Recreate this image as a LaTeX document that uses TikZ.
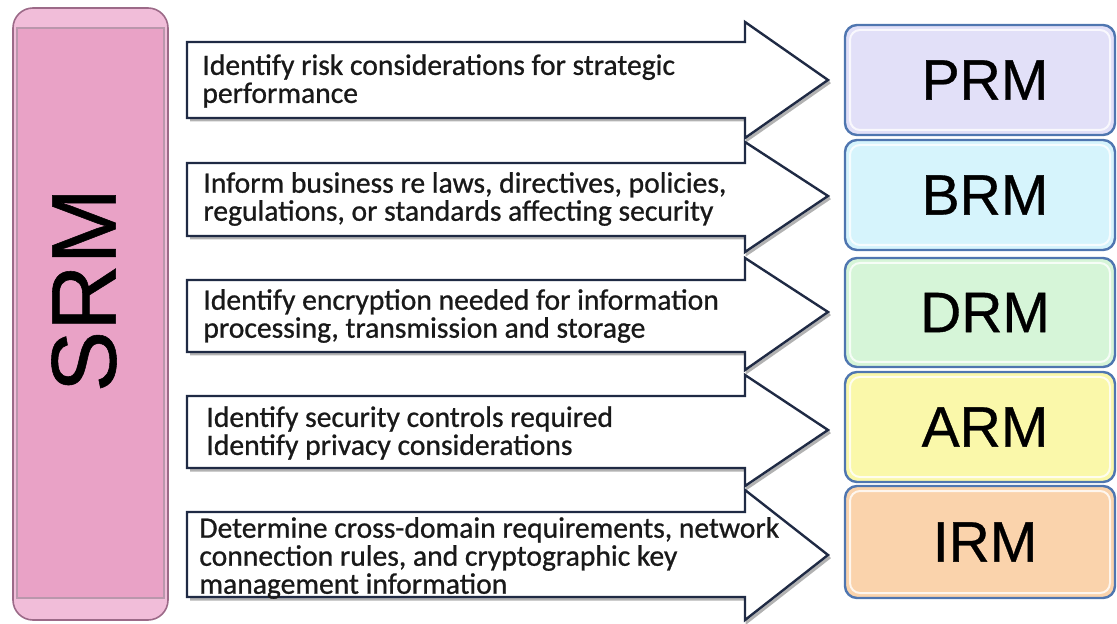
\documentclass[tikz,border=0pt]{standalone}
\usepackage{fontspec}
\setmainfont{Carlito}
\newfontfamily\arrowfont[RawFeature={embolden=0.8}]{Carlito}
\newfontfamily\labfont[RawFeature={embolden=0.6}]{Liberation Sans}
\definecolor{srmpink}{HTML}{E9A2C6}
\definecolor{srmlight}{HTML}{F1BDD9}
\definecolor{srmedge}{HTML}{9C6A88}
\definecolor{arrowedge}{HTML}{1F2A44}
\definecolor{boxedge}{HTML}{4F76B0}
\definecolor{prmfill}{HTML}{E2E0F8}
\definecolor{brmfill}{HTML}{D6F4FC}
\definecolor{drmfill}{HTML}{D6F5D8}
\definecolor{armfill}{HTML}{FAF8AA}
\definecolor{irmfill}{HTML}{FAD3AC}
\tikzset{
  arrowshape/.style={draw=arrowedge, line width=1.2pt, fill=white, line join=miter},
  arrowshadow/.style={draw=gray!60, line width=1.5pt},
  arrowtext/.style={anchor=west, align=left, font=\arrowfont\fontsize{14.8}{14}\selectfont, inner sep=0pt, text=black!90},
  modbox/.style={draw=boxedge, line width=1.2pt, rounded corners=6pt},
  modinner/.style={draw=white, line width=1pt, rounded corners=5pt, opacity=0.8},
  modlabel/.style={font=\labfont\fontsize{28.5}{30}\selectfont, inner sep=0pt},
}
\begin{document}
\begin{tikzpicture}[x=0.5pt,y=-0.5pt]
\useasboundingbox (0,0) rectangle (1117,624);
% SRM column
\draw[fill=srmlight, draw=srmedge, line width=0.8pt, rounded corners=10pt] (13,8) rectangle (168,620);
\fill[srmpink] (17,28) rectangle (164,598);
\draw[srmedge!70, line width=0.6pt] (17,28) rectangle (164,598);
\node[rotate=90, font=\labfont\fontsize{46}{50}\selectfont, inner sep=0pt] (srm) at (84,290) {SRM};
% arrows
\foreach \bt/\bb/\ht/\hb/\ty [count=\i] in {42/118/22/138/80, 163/236/142/252/196, 280/352/258/370/312, 396/468/375/486/430, 512/597/490/620/555}{
  \draw[arrowshadow] (190,\bb+2) -- (747,\bb+2) -- (747,\hb+2) -- (830,\ty+2);
  \draw[arrowshape] (187,\bt) -- (745,\bt) -- (745,\ht) -- (828,\ty) -- (745,\hb) -- (745,\bb) -- (187,\bb) -- cycle;
}
\node[arrowtext] (t1) at (202,81) {Identify risk considerations for strategic\\performance};
\node[arrowtext] (t2) at (203,199) {Inform business re laws, directives, policies,\\regulations, or standards affecting security};
\node[arrowtext] (t3) at (203,316) {Identify encryption needed for information\\processing, transmission and storage};
\node[arrowtext] (t4) at (206,433) {Identify security controls required\\Identify privacy considerations};
\node[arrowtext] (t5) at (199,558) {Determine cross-domain requirements, network\\connection rules, and cryptographic key\\management information};
% module boxes
\foreach \yt/\yb/\col/\lab/\nm in {25/135/prmfill/PRM/prm, 140/250/brmfill/BRM/brm, 258/367/drmfill/DRM/drm, 372/482/armfill/ARM/arm, 486/598/irmfill/IRM/irm}{
  \draw[modbox, fill=\col] (845,\yt) rectangle (1115,\yb);
  \draw[modinner] (850,\yt+5) rectangle (1110,\yb-5);
  \node[modlabel] (\nm) at (985,{(\yt+\yb)/2}) {\lab};
}
\end{tikzpicture}
\end{document}
